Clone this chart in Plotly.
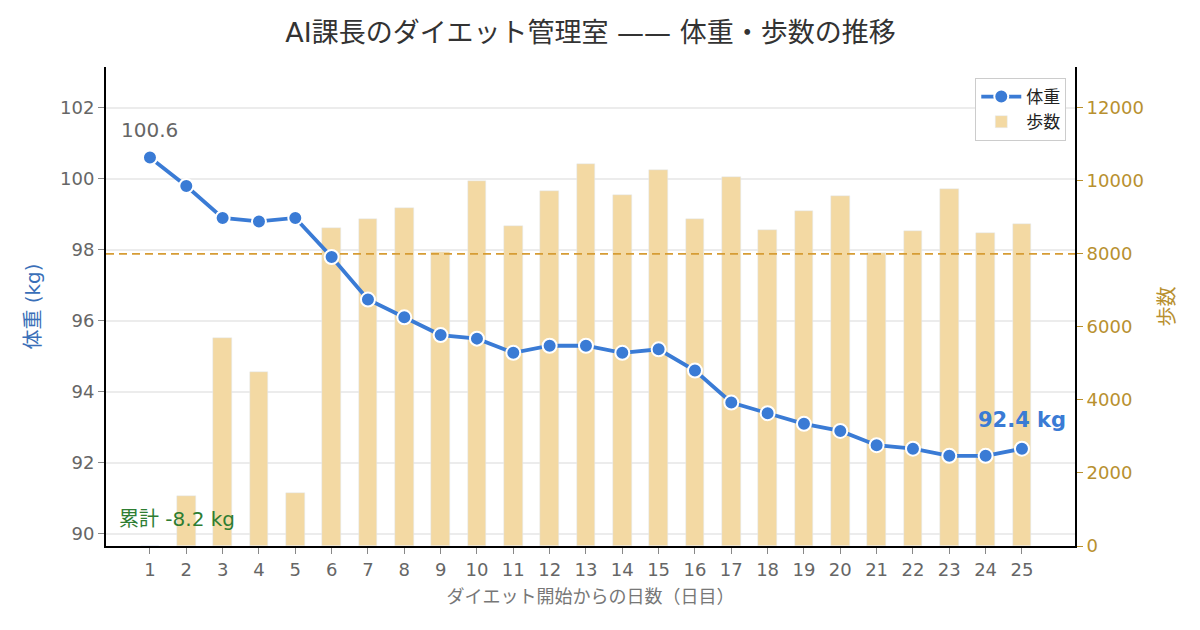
import plotly.graph_objects as go

# data
days = list(range(1, 26))
weight = [100.6, 99.8, 98.9, 98.8, 98.9, 97.8, 96.6, 96.1, 95.6, 95.5,
          95.1, 95.3, 95.3, 95.1, 95.2, 94.6, 93.7, 93.4, 93.1, 92.9,
          92.5, 92.4, 92.2, 92.2, 92.4]
steps = [0, 1370, 5700, 4770, 1450, 8700, 8960, 9260, 8050, 10000,
         8770, 9730, 10470, 9620, 10300, 8960, 10110, 8660, 9180, 9590,
         8030, 8630, 9780, 8580, 8820]
step_goal = 8000

FONT = "DejaVu Sans, Noto Sans CJK JP, sans-serif"
BLUE = "#3a7bd5"
GOLD = "#b8902f"
BAR = "#f3d9a3"
XR = [-0.21, 26.46]

fig = go.Figure()

# bars on the right axis (drawn underneath)
fig.add_trace(go.Bar(
    x=days, y=steps, name="歩数", marker_color=BAR, width=0.52,
    yaxis="y", legendrank=2))
# goal line for steps
fig.add_trace(go.Scatter(
    x=XR, y=[step_goal, step_goal], mode="lines",
    line=dict(color="#d69c34", width=1.8, dash="8px,5px"),
    yaxis="y", showlegend=False, hoverinfo="skip"))
# weight line on the left axis (drawn on top)
fig.add_trace(go.Scatter(
    x=days, y=weight, name="体重", mode="lines+markers",
    line=dict(color=BLUE, width=3.8),
    marker=dict(size=14, color=BLUE, line=dict(color="white", width=2)),
    yaxis="y2", legendrank=1))

fig.add_annotation(x=days[0], y=weight[0], xref="x", yref="y2",
                   text=f"{weight[0]:.1f}", showarrow=False, yshift=28,
                   font=dict(size=20, color="#666666"))
fig.add_annotation(x=days[-1], y=weight[-1], xref="x", yref="y2",
                   text=f"<b>{weight[-1]:.1f} kg</b>", showarrow=False, yshift=29,
                   font=dict(size=21, color=BLUE))
fig.add_annotation(x=0.011, y=0.056, xref="paper", yref="paper",
                   xanchor="left", yanchor="middle",
                   text=f"累計 {weight[-1] - weight[0]:.1f} kg", showarrow=False,
                   font=dict(size=20, color="#2e7d32"))

fig.update_layout(
    width=1200, height=630,
    margin=dict(l=98, r=133, t=59, b=92),
    paper_bgcolor="white", plot_bgcolor="white",
    font=dict(family=FONT, color="#666666"),
    title=dict(text="AI課長のダイエット管理室 —— 体重・歩数の推移",
               xref="paper", x=0.5, xanchor="center",
               y=1 - 25 / 630, yanchor="middle",
               font=dict(size=27, color="#333333")),
    bargap=0,
    legend=dict(x=0.991, y=0.977, xanchor="right", yanchor="top",
                bgcolor="white", bordercolor="#cccccc", borderwidth=1,
                itemwidth=40,
                font=dict(size=17, color="#222222"), tracegroupgap=2),
    xaxis=dict(range=XR, tickmode="array", tickvals=days,
               ticks="outside", ticklen=6, tickcolor="#888888",
               tickfont=dict(size=18, color="#666666"),
               showline=True, linecolor="black", linewidth=2,
               showgrid=False, zeroline=False,
               title=dict(text="ダイエット開始からの日数（日目）", standoff=12,
                          font=dict(size=18, color="#777777"))),
    yaxis=dict(side="right", range=[0, 13120], dtick=2000, tickformat="d",
               ticks="outside", ticklen=6, tickcolor=GOLD,
               tickfont=dict(size=18, color=GOLD),
               showline=True, linecolor="black", linewidth=2,
               showgrid=False, zeroline=False,
               title=dict(text="歩数", standoff=17,
                          font=dict(size=20, color=GOLD))),
    yaxis2=dict(side="left", overlaying="y", anchor="x",
                range=[89.66, 103.15], dtick=2,
                ticks="outside", ticklen=6, tickcolor="#888888",
                tickfont=dict(size=18, color="#666666"),
                showline=True, linecolor="black", linewidth=2,
                showgrid=True, gridcolor="#ececec", gridwidth=1.5,
                zeroline=False,
                title=dict(text="体重 (kg)", standoff=14,
                           font=dict(size=20, color="#3a6fb8"))),
)

fig.write_html("out.html")
